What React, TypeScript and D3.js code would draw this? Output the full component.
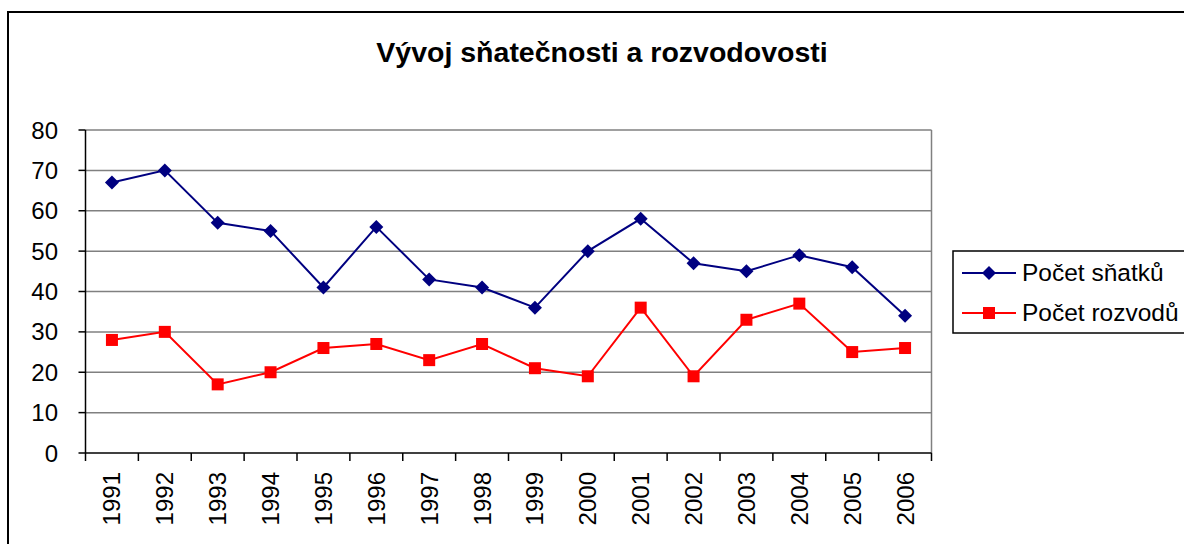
import React from 'react'
import * as d3 from 'd3'

const years = ['1991', '1992', '1993', '1994', '1995', '1996', '1997', '1998', '1999', '2000', '2001', '2002', '2003', '2004', '2005', '2006']
const snatky = [67, 70, 57, 55, 41, 56, 43, 41, 36, 50, 58, 47, 45, 49, 46, 34]
const rozvody = [28, 30, 17, 20, 26, 27, 23, 27, 21, 19, 36, 19, 33, 37, 25, 26]
const yTicks = [0, 10, 20, 30, 40, 50, 60, 70, 80]

const font = '"Liberation Sans", Arial, sans-serif'

const App = () => {
	const width = 1184
	const height = 544
	const left = 85.5
	const right = 931.5
	const top = 130
	const bottom = 453

	const x = d3.scaleBand().domain(years).range([left, right])
	const y = d3.scaleLinear().domain([0, 80]).range([bottom, top])
	const cx = (d) => x(d) + x.bandwidth() / 2

	const line = d3.line()
		.x((d, i) => cx(years[i]))
		.y(d => y(d))

	const diamond = (px, py, r, key) => (
		<path key={key} d={`M${px},${py - r}L${px + r},${py}L${px},${py + r}L${px - r},${py}Z`} fill="#000080" />
	)
	const square = (px, py, s, key) => (
		<rect key={key} x={px - s / 2} y={py - s / 2} width={s} height={s} fill="#ff0000" />
	)

	return (
		<svg width={width} height={height} style={{position: 'absolute', left: 0, top: 0}} fontFamily={font}>
			<rect x={0} y={0} width={width} height={height} fill="#fff" />
			<rect x={8} y={12} width={1200} height={560} fill="none" stroke="#000" strokeWidth={2} />
			<text x={602} y={62} textAnchor="middle" fontSize={28.5} fontWeight="bold">Vývoj sňatečnosti a rozvodovosti</text>

			{/* grid */}
			{yTicks.filter(t => t > 0).map(t => (
				<line key={`g-${t}`} x1={left} x2={right} y1={y(t)} y2={y(t)} stroke="#808080" strokeWidth={1.5} />
			))}
			<line x1={right} x2={right} y1={top} y2={bottom} stroke="#808080" strokeWidth={1.5} />

			{/* y axis */}
			<line x1={left} x2={left} y1={top} y2={bottom} stroke="#000" strokeWidth={1.5} />
			{yTicks.map(t => (
				<g key={`yt-${t}`}>
					<line x1={left - 7} x2={left} y1={y(t)} y2={y(t)} stroke="#000" strokeWidth={1.5} />
					<text x={58} y={y(t) + 8.5} textAnchor="end" fontSize={24}>{t}</text>
				</g>
			))}

			{/* x axis */}
			<line x1={left} x2={right} y1={bottom} y2={bottom} stroke="#000" strokeWidth={1.5} />
			{years.concat(['end']).map((d, i) => {
				const px = left + i * x.bandwidth()
				return <line key={`xt-${i}`} x1={px} x2={px} y1={bottom} y2={bottom + 8} stroke="#000" strokeWidth={1.5} />
			})}
			{years.map(d => (
				<text key={`xl-${d}`} transform={`translate(${cx(d) + 8.5},${472}) rotate(-90)`} textAnchor="end" fontSize={24}>{d}</text>
			))}

			{/* series */}
			<path d={line(snatky)} fill="none" stroke="#000080" strokeWidth={2} />
			{snatky.map((v, i) => diamond(cx(years[i]), y(v), 7, `s-${i}`))}
			<path d={line(rozvody)} fill="none" stroke="#ff0000" strokeWidth={2} />
			{rozvody.map((v, i) => square(cx(years[i]), y(v), 12, `r-${i}`))}

			{/* legend */}
			<rect x={953} y={251} width={260} height={82} fill="#fff" stroke="#000" strokeWidth={1.5} />
			<line x1={962} x2={1016} y1={273} y2={273} stroke="#000080" strokeWidth={2} />
			{diamond(989, 273, 7, 'ld')}
			<text x={1022} y={281} fontSize={24.5}>Počet sňatků</text>
			<line x1={962} x2={1016} y1={313} y2={313} stroke="#ff0000" strokeWidth={2} />
			{square(989, 313, 12, 'lr')}
			<text x={1022} y={321} fontSize={24.5}>Počet rozvodů</text>
		</svg>
	)
}

export default App
